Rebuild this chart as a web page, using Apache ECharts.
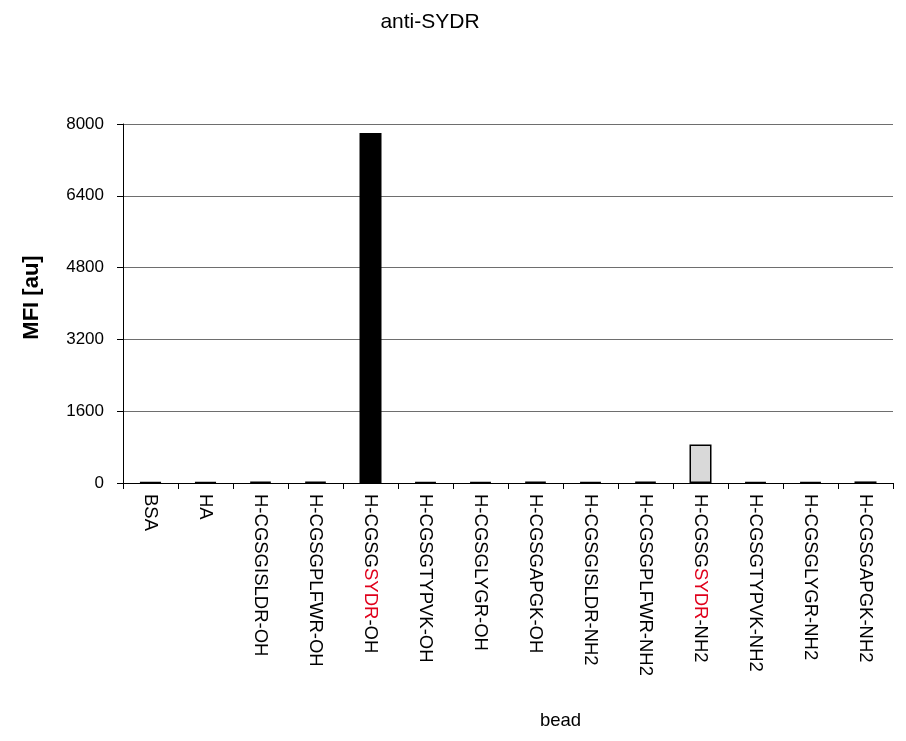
<!DOCTYPE html>
<html>
<head>
<meta charset="utf-8">
<script src="https://cdn.jsdelivr.net/npm/echarts@6/dist/echarts.min.js"></script>
<style>
  html, body { margin: 0; padding: 0; background: #fff; }
  #chart { width: 906px; height: 741px; }
</style>
</head>
<body>
<div id="chart"></div>
<script>
// Bead panel and measured MFI for the anti-SYDR antibody
const beads = [
  'BSA', 'HA',
  'H-CGSGISLDR-OH', 'H-CGSGPLFWR-OH', 'H-CGSGSYDR-OH', 'H-CGSGTYPVK-OH',
  'H-CGSGLYGR-OH', 'H-CGSGAPGK-OH',
  'H-CGSGISLDR-NH2', 'H-CGSGPLFWR-NH2', 'H-CGSGSYDR-NH2', 'H-CGSGTYPVK-NH2',
  'H-CGSGLYGR-NH2', 'H-CGSGAPGK-NH2'
];
const mfi = [20, 20, 30, 30, 7800, 25, 25, 30, 25, 30, 860, 25, 25, 35];
// amidated (NH2) peptides are drawn light grey, the rest black
const amidated = [false, false, false, false, false, false, false, false, true, true, true, true, true, true];
const yTicks = [0, 1600, 3200, 4800, 6400, 8000];
const motif = 'SYDR';

const FONT = '"Liberation Sans", Arial, sans-serif';

const chart = echarts.init(document.getElementById('chart'));
chart.setOption({
  animation: false,
  title: {
    text: 'anti-SYDR',
    left: 425, top: 7, textAlign: 'center',
    textStyle: { fontFamily: FONT, fontSize: 21, fontWeight: 'normal', color: '#000' }
  },
  graphic: [{
    type: 'text', left: 540, top: 711,
    style: { text: 'bead', font: '18.5px ' + FONT, fill: '#000' }
  }],
  grid: { left: 123, right: 13, top: 124, bottom: 258 },
  xAxis: {
    type: 'category',
    data: beads,
    axisLine: { lineStyle: { color: '#000', width: 1 } },
    axisTick: { show: true, alignWithLabel: false, length: 6, lineStyle: { color: '#000' } },
    axisLabel: {
      rotate: -90, interval: 0, margin: 11,
      fontFamily: FONT, fontSize: 18.5, color: '#000',
      formatter: function (v) {
        const i = v.indexOf(motif);
        if (i < 0) return '{n|' + v + '}';
        return '{n|' + v.slice(0, i) + '}{r|' + motif + '}{n|' + v.slice(i + motif.length) + '}';
      },
      rich: {
        n: { fontFamily: FONT, fontSize: 18.5, color: '#000' },
        r: { fontFamily: FONT, fontSize: 18.5, color: '#e0001b' }
      }
    }
  },
  yAxis: {
    type: 'value',
    min: yTicks[0], max: yTicks[yTicks.length - 1], interval: 1600,
    name: 'MFI [au]', nameLocation: 'middle', nameGap: 80, nameRotate: 90,
    nameTextStyle: { fontFamily: FONT, fontSize: 22, fontWeight: 'bold', color: '#000', padding: [0, 0, 0, 12] },
    axisLine: { show: true, lineStyle: { color: '#000', width: 1 } },
    axisTick: { show: true, length: 6, lineStyle: { color: '#000' } },
    axisLabel: {
      margin: 19, fontFamily: FONT, fontSize: 17, color: '#000',
      formatter: v => String(v)
    },
    splitLine: { show: true, lineStyle: { color: '#6e6e6e', width: 1 } }
  },
  series: [{
    type: 'bar',
    barWidth: '40%',
    data: mfi.map((v, i) => ({
      value: v,
      itemStyle: {
        color: amidated[i] ? '#d9d9d9' : '#000',
        borderColor: '#000',
        borderWidth: 1.5
      }
    }))
  }]
});
</script>
</body>
</html>
